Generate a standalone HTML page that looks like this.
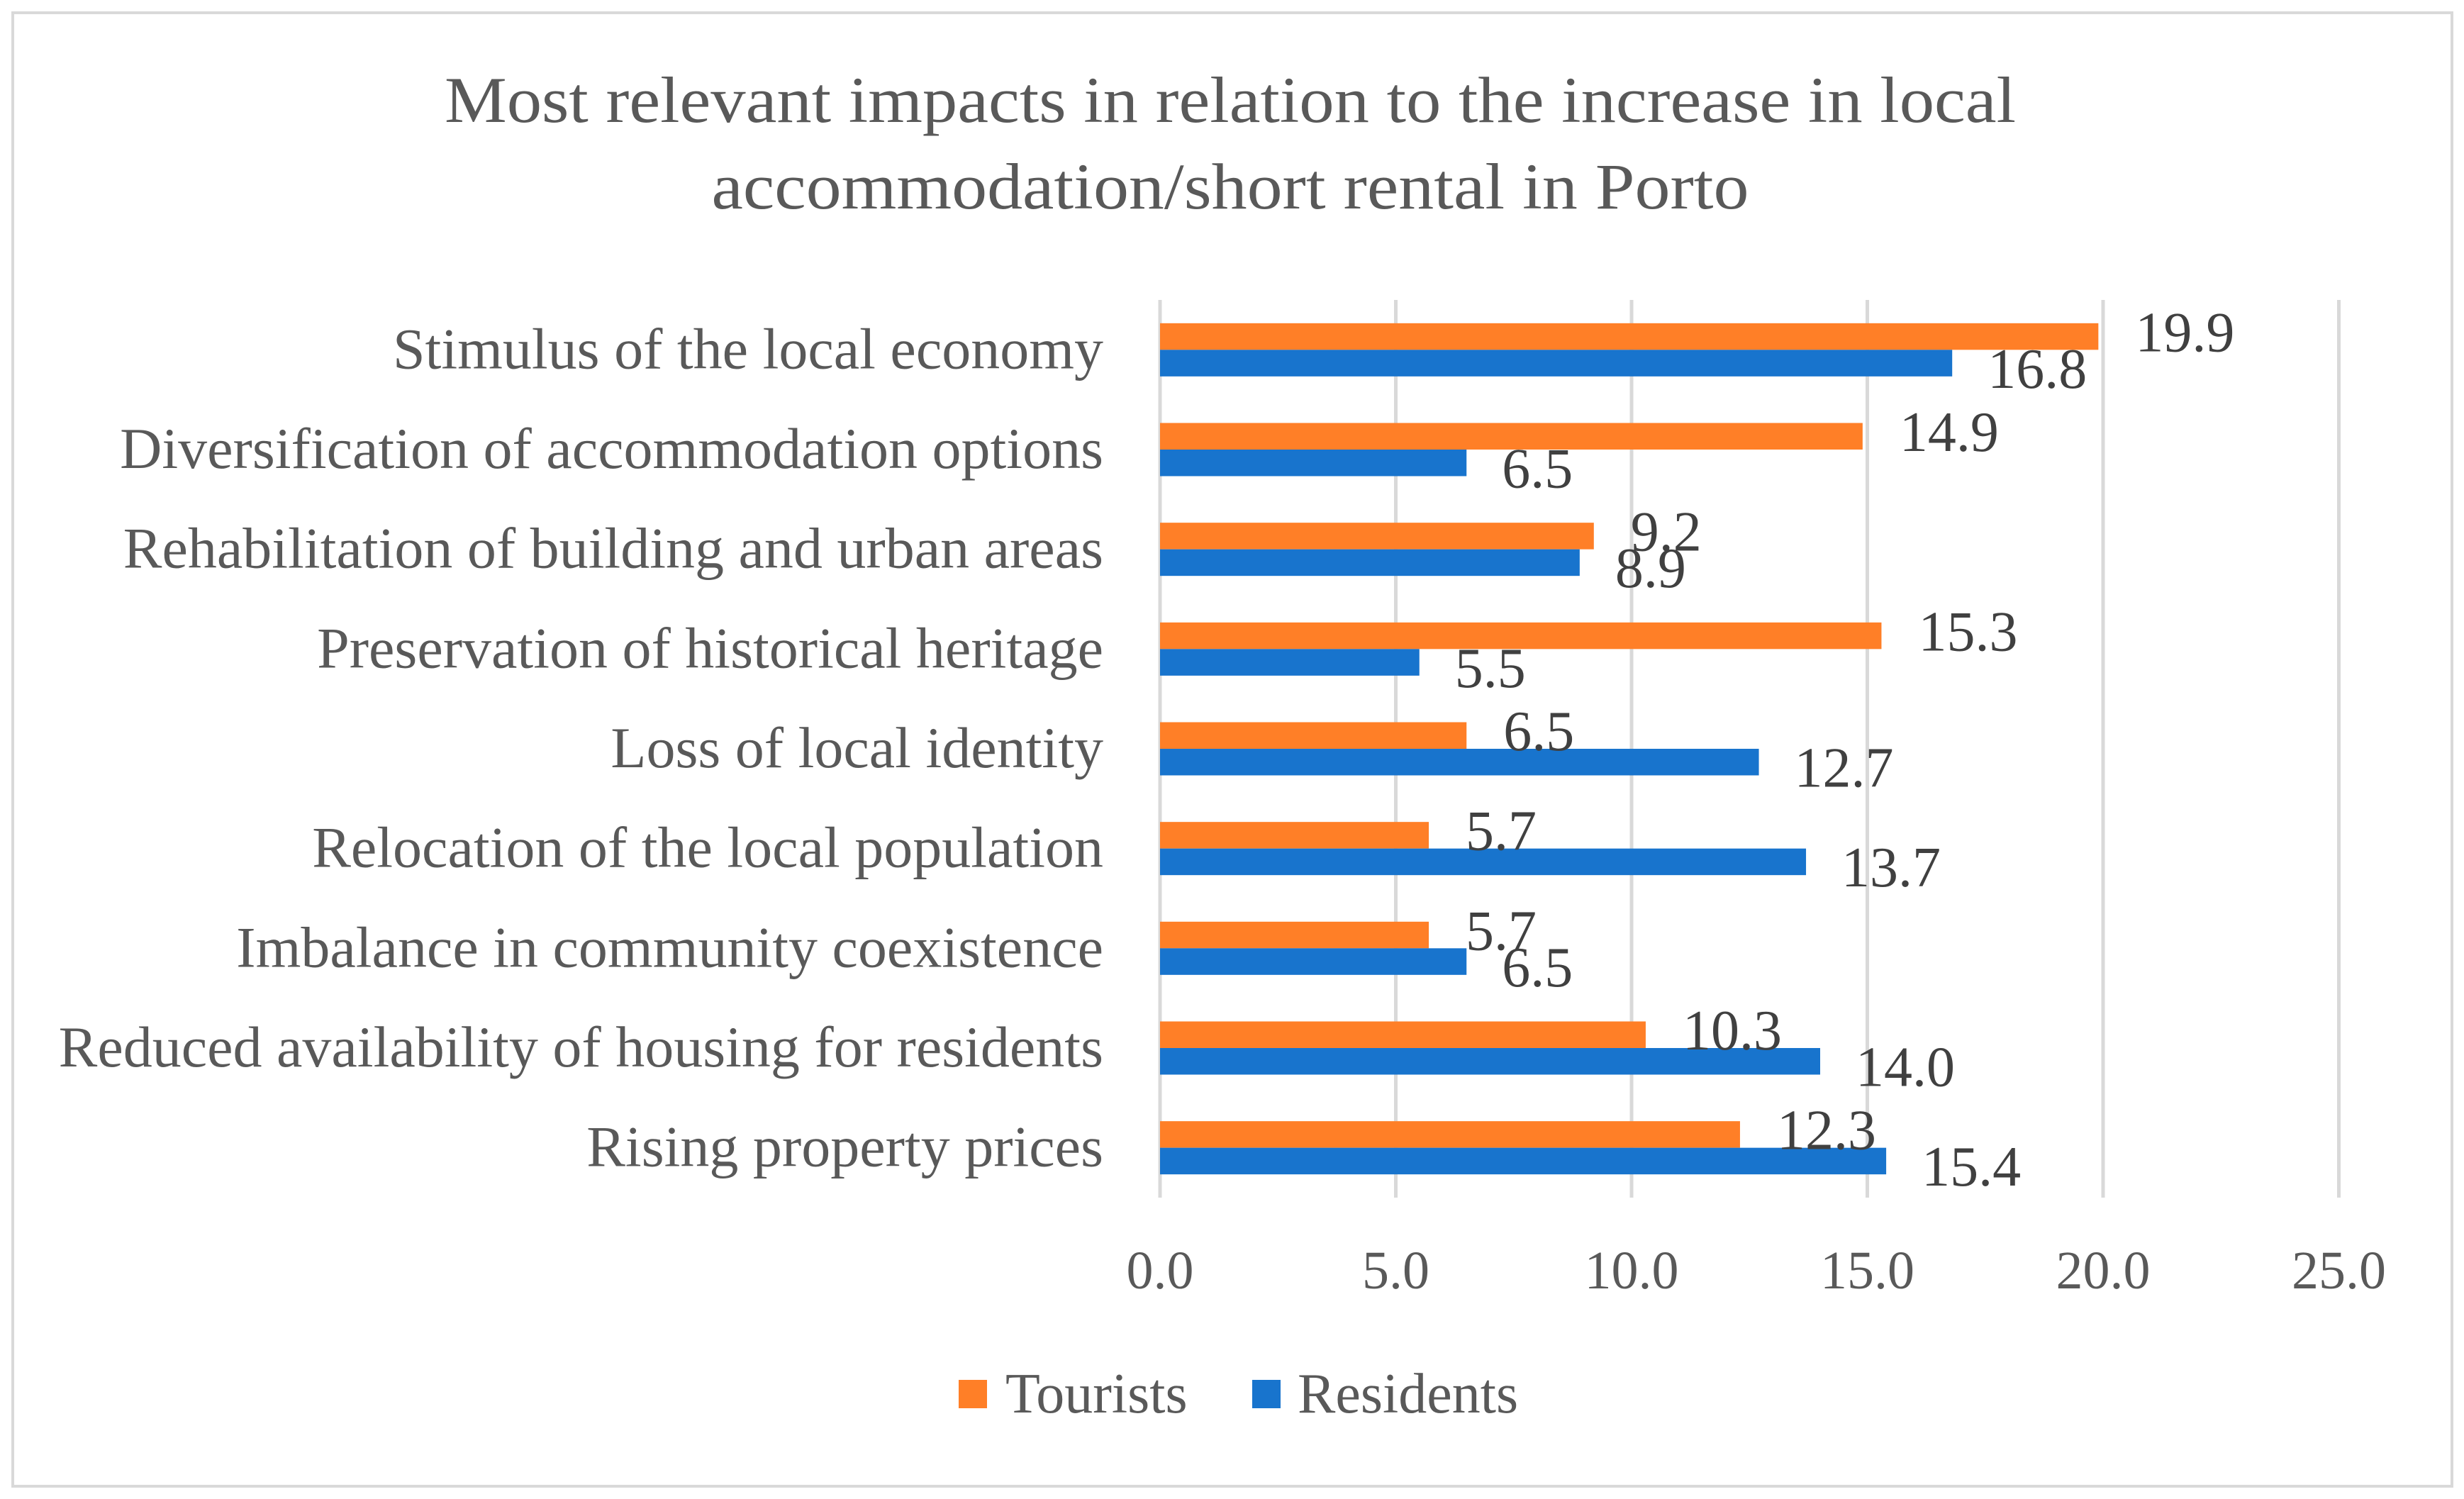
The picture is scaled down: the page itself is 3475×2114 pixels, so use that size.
<!DOCTYPE html>
<html><head><meta charset="utf-8"><style>
body{margin:0;background:#fff}
svg{display:block;font-family:"Liberation Serif",serif}
</style></head><body>
<svg id="chart" width="3475" height="2114" viewBox="0 0 3475 2114">
<rect x="18" y="18" width="3440" height="2078" fill="#fff" stroke="#d9d9d9" stroke-width="4"/>
<text x="1735" y="172" text-anchor="middle" font-size="92" textLength="2216" lengthAdjust="spacingAndGlyphs" fill="#595959">Most relevant impacts in relation to the increase in local</text>
<text x="1735" y="294" text-anchor="middle" font-size="92" textLength="1463" lengthAdjust="spacingAndGlyphs" fill="#595959">accommodation/short rental in Porto</text>
<g id="grid"></g><g id="bars"></g><g id="labels"></g>
<g>
<rect x="1352" y="1946" width="40" height="40" fill="#FF7F27"/>
<text x="1418" y="1992" font-size="80" fill="#595959">Tourists</text>
<rect x="1766" y="1946" width="40" height="40" fill="#1874CD"/>
<text x="1830" y="1992" font-size="80" fill="#595959">Residents</text>
</g>
</svg>
<script>
const categories=["Stimulus of the local economy","Diversification of accommodation options","Rehabilitation of building and urban areas","Preservation of historical heritage","Loss of local identity","Relocation of the local population","Imbalance in community coexistence","Reduced availability of housing for residents","Rising property prices"];
const tourists=[19.9,14.9,9.2,15.3,6.5,5.7,5.7,10.3,12.3];
const residents=[16.8,6.5,8.9,5.5,12.7,13.7,6.5,14.0,15.4];
const ticks=[0,5,10,15,20,25];
const NS="http://www.w3.org/2000/svg";
const x0=1636,pxu=66.5,yTop=423,yBot=1689,band=(yBot-yTop)/categories.length,bh=37.5;
const X=v=>x0+v*pxu;
const Y=i=>yTop+band*(i+0.5);
function mk(t,a,p){const e=document.createElementNS(NS,t);for(const k in a)e.setAttribute(k,a[k]);p.appendChild(e);return e;}
const grid=document.getElementById('grid'),bars=document.getElementById('bars'),labels=document.getElementById('labels');
ticks.forEach(t=>{
 const l=mk('line',{x1:X(t),x2:X(t),y1:yTop,y2:yBot,stroke:'#d9d9d9','stroke-width':5},grid);
 
 
 const tx=mk('text',{x:X(t),y:1817,'text-anchor':'middle','font-size':76,fill:'#595959'},grid);
 tx.textContent=t.toFixed(1);
 
 
});
categories.forEach((c,i)=>{
 const cy=Y(i);
 const ct=mk('text',{x:1556,y:cy+26,'text-anchor':'end','font-size':82,fill:'#595959'},labels);
 ct.textContent=c;
 
 
 const ro=mk('rect',{x:X(0),y:cy-bh,width:X(tourists[i])-X(0),height:bh,fill:'#FF7F27'},bars);
 
 
 const rb=mk('rect',{x:X(0),y:cy,width:X(residents[i])-X(0),height:bh,fill:'#1874CD'},bars);
 
 
 const lo=mk('text',{x:X(tourists[i])+52,y:cy+2,'font-size':80,fill:'#404040'},labels);
 lo.textContent=tourists[i].toFixed(1);
 
 
 const lb=mk('text',{x:X(residents[i])+50,y:cy+bh+16,'font-size':80,fill:'#404040'},labels);
 lb.textContent=residents[i].toFixed(1);
 
 
});
</script>
</body></html>
